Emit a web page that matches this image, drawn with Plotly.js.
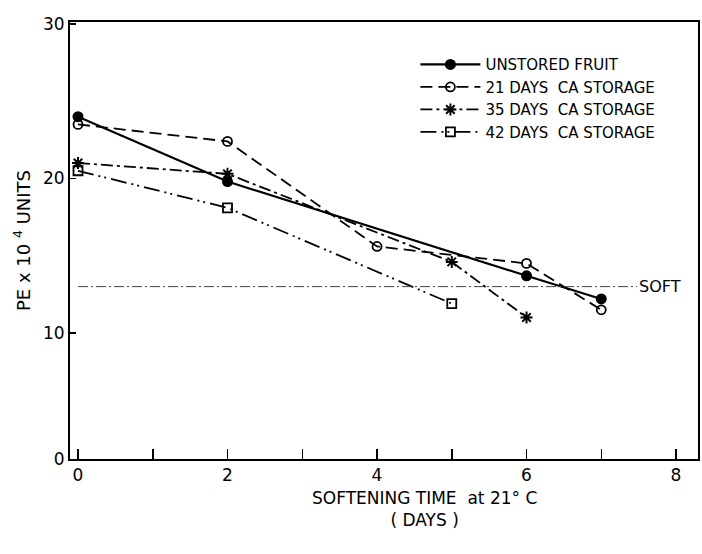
<!DOCTYPE html>
<html>
<head>
<meta charset="utf-8">
<script src="https://cdn.plot.ly/plotly-3.0.1.min.js"></script>
<style>html,body{margin:0;padding:0;background:#fff;}#chart{width:702px;height:554px;}</style>
</head>
<body>
<div id="chart"></div>
<script>
// ---- data ----
var seriesNames = ['UNSTORED FRUIT', '21 DAYS  CA STORAGE', '35 DAYS  CA STORAGE', '42 DAYS  CA STORAGE'];
var unstoredX = [0, 2, 6, 7];
var unstoredY = [24.0, 19.8, 13.7, 12.2];
var ca21X = [0, 2, 4, 6, 7];
var ca21Y = [23.5, 22.4, 15.6, 14.5, 11.5];
var ca35X = [0, 2, 5, 6];
var ca35Y = [21.0, 20.3, 14.6, 11.0];
var ca42X = [0, 2, 5];
var ca42Y = [20.5, 18.1, 11.9];
var softLevel = 13.0;
var softX = [0, 7.48];
var softLabel = 'SOFT';
var xTickVals = [0, 1, 2, 3, 4, 5, 6, 7, 8];
var xTickText = ['0', '', '2', '', '4', '', '6', '', '8'];
var yTickVals = [1.84, 10, 20, 30];
var yTickText = ['0', '10', '20', '30'];
var xTitle = 'SOFTENING TIME  at 21° C<br>( DAYS )';
var yTitle = 'PE x 10 <sup>4</sup> UNITS';

var FONT = 'DejaVu Sans, Liberation Sans, sans-serif';

var traces = [
  {x: unstoredX, y: unstoredY, name: seriesNames[0], mode: 'lines+markers',
   line: {color: '#000', width: 2.2, dash: 'solid'},
   marker: {symbol: 'circle', size: 11, color: '#000'}},
  {x: ca21X, y: ca21Y, name: seriesNames[1], mode: 'lines+markers',
   line: {color: '#000', width: 1.8, dash: '12px,6px'},
   marker: {symbol: 'circle-open', size: 9, color: '#000', line: {width: 1.8}}},
  {x: ca35X, y: ca35Y, name: seriesNames[2], mode: 'lines+markers',
   line: {color: '#000', width: 1.8, dash: '12px,4px,3px,4px'},
   marker: {symbol: 'asterisk-open', size: 10, color: '#000', line: {width: 2, color: '#000'}}},
  {x: ca42X, y: ca42Y, name: seriesNames[3], mode: 'lines+markers',
   line: {color: '#000', width: 1.8, dash: '16px,5px,2px,4px,2px,5px'},
   marker: {symbol: 'square-open', size: 9, color: '#000', line: {width: 1.8}}},
  {x: softX, y: [softLevel, softLevel], mode: 'lines', showlegend: false, hoverinfo: 'skip',
   line: {color: '#444', width: 1, dash: '10px,3px,2px,3px'}}
];

var layout = {
  width: 702, height: 554,
  margin: {l: 70, r: 4, t: 22, b: 95},
  paper_bgcolor: '#fff', plot_bgcolor: '#fff',
  font: {family: FONT, color: '#000'},
  showlegend: true,
  legend: {x: 0.55, y: 0.94, xanchor: 'left', yanchor: 'top',
           font: {family: FONT, size: 15, color: '#000'},
           bgcolor: 'rgba(0,0,0,0)', tracegroupgap: 0, itemwidth: 60},
  xaxis: {range: [-0.107, 8.294], tickvals: xTickVals, ticktext: xTickText,
          ticks: 'inside', ticklen: 10, tickwidth: 1.5, tickcolor: '#000',
          showline: true, linecolor: '#000', linewidth: 2, mirror: true,
          showgrid: false, zeroline: false,
          tickfont: {family: FONT, size: 17, color: '#000'}},
  yaxis: {range: [1.84, 30.13], tickvals: yTickVals, ticktext: yTickText,
          ticks: 'inside', ticklen: 6, tickwidth: 1.5, tickcolor: '#000',
          showline: true, linecolor: '#000', linewidth: 2, mirror: true,
          showgrid: false, zeroline: false,
          tickfont: {family: FONT, size: 17, color: '#000'},
          title: {text: yTitle, font: {family: FONT, size: 18, color: '#000'}, standoff: 8}},
  annotations: [
    {xref: 'x', yref: 'paper', x: 4.64, y: -0.062, yanchor: 'top', xanchor: 'center',
     text: xTitle, showarrow: false, font: {family: FONT, size: 17, color: '#000'}},
    {xref: 'x', yref: 'y', x: softX[1], y: softLevel, xanchor: 'left', yanchor: 'middle',
     text: softLabel, showarrow: false, font: {family: FONT, size: 16, color: '#000'}}
  ]
};

Plotly.newPlot('chart', traces, layout, {displayModeBar: false, staticPlot: true});
</script>
</body>
</html>
